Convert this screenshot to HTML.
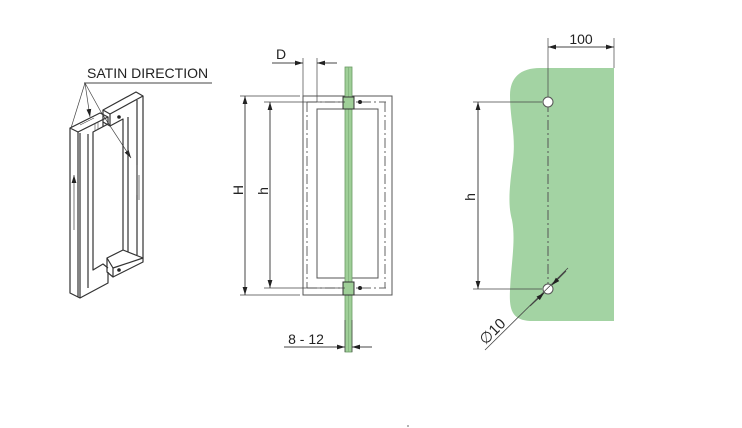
<!DOCTYPE html>
<html><head><meta charset="utf-8"><style>
html,body{margin:0;padding:0;background:#fff;width:742px;height:428px;overflow:hidden}
text{font-family:"Liberation Sans",sans-serif;fill:#222}
</style></head><body>
<svg width="742" height="428" viewBox="0 0 742 428" xmlns="http://www.w3.org/2000/svg">
<defs>
<marker id="a" viewBox="0 0 10 6" refX="10" refY="3" markerWidth="8" markerHeight="5" orient="auto-start-reverse" markerUnits="userSpaceOnUse"><path d="M0,0L10,3L0,6z" fill="#222"/></marker>
</defs>
<g stroke="#444" fill="none" stroke-width="1">
<!-- Left isometric handle -->
<text x="87" y="78" font-size="14" stroke="none">SATIN DIRECTION</text>
<line x1="84" y1="83" x2="212" y2="83"/>
<line x1="85" y1="83" x2="71" y2="128" stroke-width="0.7"/>
<line x1="85" y1="83" x2="90" y2="117" stroke-width="0.7" marker-end="url(#a)"/>
<line x1="85" y1="83" x2="101" y2="112" stroke-width="0.7"/>
<line x1="101" y1="112" x2="131" y2="158" stroke-width="0.7" marker-end="url(#a)"/>
<g stroke="#333" stroke-width="1.2" stroke-linejoin="round">
<!-- left piece -->
<polygon points="70,128 100,113 108,117 78,132"/>
<polyline points="78,132 78,297"/>
<polyline points="70,128 70,293 80,298 108,283 108,272"/>
<polyline points="108,117 108,124 93,132 93,265"/>
<line x1="88" y1="134" x2="88" y2="288"/>
<polyline points="93,265 93,270 103,264 108,268"/>
<line x1="80" y1="298" x2="80" y2="133"/>
<!-- right piece -->
<polygon points="103,110 136,92 143,96 110,114"/>
<polyline points="103,110 103,122 110,126 110,114"/>
<polyline points="110,126 123,119 123,250"/>
<polyline points="143,96 143,258"/>
<line x1="137" y1="100" x2="137" y2="255"/>
<line x1="128" y1="117" x2="128" y2="252"/>
<polygon points="107,258 123,250 143,258 113,268"/>
<polyline points="107,258 107,272 113,277 113,268"/>
<polyline points="113,277 143,262 143,258"/>
<line x1="103" y1="122" x2="103" y2="127"/>
</g>
<circle cx="119" cy="117" r="1.8" fill="#222" stroke="none"/>
<circle cx="119" cy="270" r="1.8" fill="#222" stroke="none"/>
<line x1="74" y1="175" x2="74" y2="230" stroke-width="0.7" marker-start="url(#a)"/>
<line x1="137" y1="165" x2="137" y2="195" stroke-width="0.7"/>
<line x1="139" y1="175" x2="139" y2="200" stroke-width="0.7"/>
<line x1="98" y1="122" x2="98" y2="130" stroke-width="0.6"/>
<line x1="95" y1="124" x2="95" y2="131" stroke-width="0.6"/>
<line x1="80" y1="125" x2="94" y2="118" stroke-width="0.6"/>

<!-- Middle side view -->
<text x="276" y="59" font-size="14" stroke="none">D</text>
<line x1="272" y1="63" x2="303" y2="63" marker-end="url(#a)"/>
<line x1="337" y1="63" x2="317" y2="63" marker-end="url(#a)"/>
<line x1="303" y1="58" x2="303" y2="96" stroke-width="0.7"/>
<line x1="317" y1="58" x2="317" y2="102" stroke-width="0.7"/>
<rect x="303" y="96" width="89" height="199" stroke="#555"/>
<rect x="317" y="109" width="61" height="169" stroke="#555"/>
<g stroke-dasharray="10,3,2,3" stroke="#666">
<line x1="307" y1="102" x2="386" y2="102"/>
<line x1="307" y1="288" x2="386" y2="288"/>
<line x1="307" y1="102" x2="307" y2="288"/>
<line x1="385" y1="102" x2="385" y2="288"/>
</g>
<rect x="345" y="67" width="7" height="285" fill="#9fcf98" stroke="#6a9a64" stroke-width="0.8"/>
<line x1="348.5" y1="67" x2="348.5" y2="352" stroke="#7aa874" stroke-width="0.6"/>
<rect x="343" y="97" width="11" height="12" fill="#9fcf98" stroke="#333"/>
<rect x="343" y="282" width="11" height="13" fill="#9fcf98" stroke="#333"/>
<circle cx="360" cy="102" r="2" fill="#222" stroke="none"/>
<circle cx="360" cy="288" r="2" fill="#222" stroke="none"/>
<line x1="240" y1="96" x2="300" y2="96" stroke-width="0.7"/>
<line x1="240" y1="295" x2="300" y2="295" stroke-width="0.7"/>
<line x1="264" y1="102" x2="345" y2="102" stroke-width="0.7"/>
<line x1="264" y1="288" x2="345" y2="288" stroke-width="0.7"/>
<line x1="245" y1="96" x2="245" y2="295" marker-start="url(#a)" marker-end="url(#a)"/>
<line x1="270" y1="102" x2="270" y2="288" marker-start="url(#a)" marker-end="url(#a)"/>
<text transform="translate(243,190) rotate(-90)" font-size="14" stroke="none" text-anchor="middle">H</text>
<text transform="translate(268,191) rotate(-90)" font-size="14" stroke="none" text-anchor="middle">h</text>
<line x1="345" y1="320" x2="345" y2="352" stroke-width="0.7"/>
<line x1="352" y1="320" x2="352" y2="352" stroke-width="0.7"/>
<line x1="284" y1="347" x2="345" y2="347" marker-end="url(#a)"/>
<line x1="372" y1="347" x2="352" y2="347" marker-end="url(#a)"/>
<text x="306" y="344" font-size="14" stroke="none" text-anchor="middle">8 - 12</text>

<!-- Right panel -->
<path d="M614,68 L540,68 C520,68 510,78 510,95 C510,120 516,135 513,160 C509,190 508,205 512,220 C516,240 511,265 510,290 C509,310 512,320 530,321 L614,321 Z" fill="#a3d3a3" stroke="none"/>
<line x1="614" y1="38" x2="614" y2="68" stroke-width="0.7"/>
<line x1="548" y1="38" x2="548" y2="102" stroke-width="0.7"/>
<line x1="548" y1="47" x2="614" y2="47" marker-start="url(#a)" marker-end="url(#a)"/>
<text x="581" y="44" font-size="14" stroke="none" text-anchor="middle">100</text>
<line x1="548" y1="102" x2="548" y2="295" stroke-dasharray="10,3,2,3" stroke="#555"/>
<circle cx="548" cy="102" r="5" fill="#fff" stroke="#555"/>
<circle cx="548" cy="289" r="5" fill="#fff" stroke="#555"/>
<line x1="473" y1="102" x2="542" y2="102" stroke-width="0.7"/>
<line x1="473" y1="289" x2="542" y2="289" stroke-width="0.7"/>
<line x1="478" y1="102" x2="478" y2="289" marker-start="url(#a)" marker-end="url(#a)"/>
<text transform="translate(475,197) rotate(-90)" font-size="14" stroke="none" text-anchor="middle">h</text>
<line x1="485" y1="350" x2="568" y2="268" stroke-width="0.8"/>
<line x1="530" y1="306" x2="544" y2="293" marker-end="url(#a)"/>
<line x1="566" y1="271" x2="552" y2="285" marker-end="url(#a)"/>
<text transform="translate(496,335) rotate(-45)" font-size="15" stroke="none" text-anchor="middle">∅10</text>
<line x1="408" y1="425" x2="408" y2="427" stroke-width="0.8"/>
</g>
</svg>
</body></html>
